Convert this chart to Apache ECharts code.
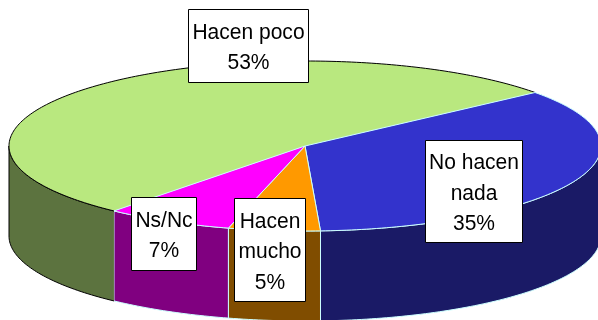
<!DOCTYPE html>
<html><head><meta charset="utf-8">
<style>html,body{margin:0;padding:0;background:#fff}#c{width:598px;height:320px}</style>
<script src="https://cdn.jsdelivr.net/npm/echarts@6/dist/echarts.min.js"></script>
</head><body><div id="c"></div>
<script>
// ---- data ----
const categories = ['No hacen\nnada', 'Hacen\nmucho', 'Ns/Nc', 'Hacen poco'];
const values = [35, 5, 7, 53];
const topColors = ['#3333cc', '#ff9900', '#ff00ff', '#b9e87f'];
const sideColors = ['#1a1a66', '#804d00', '#800080', '#5c733f'];
const edgeColors = ['#ccffff', '#ccffff', '#ccffff', '#000000'];
// ---- layout ----
const cx = 305, cy = 146, rx = 296, ry = 85, depth = 90, startDeg = 39;
const labelBoxes = [[425, 140, 97, 102], [234, 198, 71, 103], [131, 197, 65, 73], [188, 9, 120, 73]];
const total = values.reduce((a, b) => a + b, 0);

function sliceRange(i) {
  let before = 0;
  for (let k = 0; k < i; k++) before += values[k];
  const a0 = startDeg - before / total * 360;
  return [a0, a0 - values[i] / total * 360];
}
function pt(deg, dy) {
  const t = deg * Math.PI / 180;
  return [cx + rx * Math.cos(t), cy - ry * Math.sin(t) + (dy || 0)];
}
function arc(from, to, dy) {
  const out = [], n = Math.max(2, Math.ceil(Math.abs(from - to)));
  for (let j = 0; j <= n; j++) out.push(pt(from + (to - from) * j / n, dy));
  return out;
}
function wallRange(a0, a1) {
  const hi = Math.min(a0, 0), lo = Math.max(a1, -180);
  return hi > lo ? [hi, lo] : null;
}
function renderSlice(params) {
  const i = params.dataIndex, [a0, a1] = sliceRange(i);
  const isGreen = edgeColors[i] === '#000000';
  const children = [];
  const w = wallRange(a0, a1);
  if (w) {
    const upper = arc(w[0], w[1], 0), lower = arc(w[0], w[1], depth);
    const poly = upper.concat(lower.slice().reverse());
    children.push({
      type: 'polygon', z2: 1, shape: { points: poly },
      style: { fill: sideColors[i], stroke: isGreen ? 'none' : edgeColors[i], lineWidth: 1 }
    });
    if (isGreen) {
      children.push({
        type: 'polyline', z2: 1,
        shape: { points: poly.slice(upper.length - 1) },
        style: { fill: 'none', stroke: '#000', lineWidth: 1 }
      });
      children.push({
        type: 'polyline', z2: 1, shape: { points: upper },
        style: { fill: 'none', stroke: '#000', lineWidth: 1 }
      });
    }
  }
  const outer = arc(a0, a1, 0);
  children.push({
    type: 'polygon', z2: isGreen ? 2 : 3, shape: { points: [[cx, cy]].concat(outer) },
    style: { fill: topColors[i], stroke: isGreen ? 'none' : edgeColors[i], lineWidth: 1 }
  });
  if (isGreen) {
    children.push({
      type: 'polyline', z2: 2, shape: { points: outer },
      style: { fill: 'none', stroke: '#000', lineWidth: 1 }
    });
  }
  return { type: 'group', children };
}
function renderLabel(params) {
  const i = params.dataIndex, b = labelBoxes[i];
  const tx = b[0] + b[2] / 2 + 0.5, ty = b[1] + b[3] / 2 + 2.5;
  return {
    type: 'group',
    children: [
      { type: 'rect', shape: { x: b[0] + 0.5, y: b[1] + 0.5, width: b[2], height: b[3] },
        style: { fill: '#fff', stroke: '#000', lineWidth: 1 } },
      { type: 'text', z2: 2, x: tx, y: ty, scaleX: 0.955,
        style: {
          x: 0, y: 0,
          text: categories[i] + '\n' + values[i] + '%',
          align: 'center', verticalAlign: 'middle',
          font: '22px "Liberation Sans", Arial, sans-serif', lineHeight: 30.5, fill: '#000'
        } }
    ]
  };
}
const chart = echarts.init(document.getElementById('c'), null, { renderer: 'canvas' });
chart.setOption({
  animation: false,
  backgroundColor: '#fff',
  series: [
    { type: 'custom', coordinateSystem: 'none', z: 1, renderItem: renderSlice, data: values, silent: true },
    { type: 'custom', coordinateSystem: 'none', z: 2, renderItem: renderLabel, data: values, silent: true }
  ]
});
</script></body></html>
